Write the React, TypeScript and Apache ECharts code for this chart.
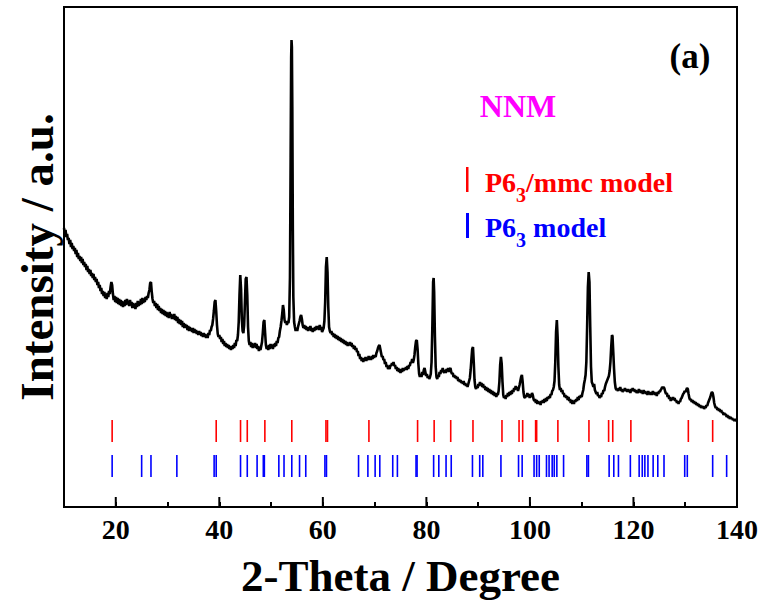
import React, { useEffect, useRef } from "react";
import * as echarts from "echarts";

// 2-Theta (deg), intensity (a.u.)
const pattern: [number, number][] = [
  [10.0, 2790], [10.15, 2740], [10.3, 2770], [10.45, 2700], [10.6, 2730], [10.75, 2670], [10.9, 2690], [11.05, 2630],
  [11.2, 2670], [11.35, 2600], [11.5, 2640], [11.65, 2580], [11.8, 2610], [11.95, 2560], [12.1, 2590], [12.25, 2530],
  [12.4, 2570], [12.55, 2500], [12.7, 2540], [12.85, 2480], [13.0, 2510], [13.15, 2460], [13.3, 2500], [13.45, 2440],
  [13.6, 2480], [13.75, 2420], [13.9, 2450], [14.05, 2400], [14.2, 2430], [14.35, 2370], [14.5, 2410], [14.65, 2350],
  [14.8, 2380], [14.95, 2330], [15.1, 2370], [15.25, 2310], [15.4, 2340], [15.55, 2290], [15.7, 2330], [15.85, 2270],
  [16.0, 2300], [16.15, 2250], [16.3, 2280], [16.45, 2220], [16.6, 2250], [16.75, 2190], [16.9, 2220], [17.05, 2160],
  [17.2, 2190], [17.35, 2130], [17.5, 2160], [17.65, 2110], [17.8, 2150], [17.95, 2090], [18.1, 2130], [18.25, 2080],
  [18.4, 2140], [18.55, 2100], [18.7, 2160], [18.85, 2130], [19.0, 2200], [19.15, 2250], [19.3, 2220], [19.45, 2130],
  [19.6, 2070], [19.75, 2110], [19.9, 2050], [20.05, 2100], [20.2, 2040], [20.35, 2090], [20.5, 2030], [20.65, 2080],
  [20.8, 2020], [20.95, 2070], [21.1, 2010], [21.25, 2060], [21.4, 2000], [21.55, 2050], [21.7, 2010], [21.85, 2070],
  [22.0, 2020], [22.15, 2080], [22.3, 2030], [22.45, 2060], [22.6, 2010], [22.75, 2070], [22.9, 2020], [23.05, 2050],
  [23.2, 1990], [23.35, 2040], [23.5, 1990], [23.65, 2030], [23.8, 1980], [23.95, 2040], [24.1, 2000], [24.25, 2060],
  [24.4, 2010], [24.55, 2050], [24.7, 2020], [24.85, 2080], [25.0, 2030], [25.15, 2090], [25.3, 2040], [25.45, 2080],
  [25.6, 2050], [25.75, 2100], [25.9, 2070], [26.05, 2110], [26.2, 2090], [26.35, 2140], [26.5, 2170], [26.65, 2240],
  [26.8, 2250], [26.95, 2150], [27.1, 2080], [27.25, 2040], [27.4, 2060], [27.55, 2010], [27.7, 2040], [27.85, 1990],
  [28.0, 2030], [28.15, 1970], [28.3, 2010], [28.45, 1960], [28.6, 1990], [28.75, 1940], [28.9, 1980], [29.05, 1930],
  [29.2, 1970], [29.35, 1920], [29.5, 1960], [29.65, 1910], [29.8, 1950], [29.95, 1900], [30.1, 1940], [30.25, 1890],
  [30.4, 1950], [30.55, 1900], [30.7, 1930], [30.85, 1880], [31.0, 1920], [31.15, 1880], [31.3, 1930], [31.45, 1870],
  [31.6, 1910], [31.75, 1860], [31.9, 1900], [32.05, 1840], [32.2, 1880], [32.35, 1830], [32.5, 1870], [32.65, 1820],
  [32.8, 1860], [32.95, 1800], [33.1, 1840], [33.25, 1790], [33.4, 1830], [33.55, 1790], [33.7, 1820], [33.85, 1770],
  [34.0, 1810], [34.15, 1760], [34.3, 1800], [34.45, 1760], [34.6, 1790], [34.75, 1750], [34.9, 1790], [35.05, 1740],
  [35.2, 1780], [35.35, 1740], [35.5, 1770], [35.65, 1730], [35.8, 1760], [35.95, 1720], [36.1, 1760], [36.25, 1720],
  [36.4, 1750], [36.55, 1710], [36.7, 1740], [36.85, 1700], [37.0, 1740], [37.15, 1700], [37.3, 1730], [37.45, 1690],
  [37.6, 1720], [37.75, 1690], [37.9, 1740], [38.05, 1720], [38.2, 1770], [38.35, 1760], [38.5, 1800], [38.65, 1820],
  [38.8, 1880], [38.95, 1960], [39.1, 2050], [39.25, 2070], [39.4, 1960], [39.55, 1820], [39.7, 1730], [39.85, 1700],
  [40.0, 1720], [40.15, 1680], [40.3, 1700], [40.45, 1650], [40.6, 1680], [40.75, 1630], [40.9, 1660], [41.05, 1610],
  [41.2, 1640], [41.35, 1600], [41.5, 1630], [41.65, 1590], [41.8, 1620], [41.95, 1580], [42.1, 1610], [42.25, 1570],
  [42.4, 1610], [42.55, 1580], [42.7, 1620], [42.85, 1590], [43.0, 1640], [43.15, 1610], [43.3, 1670], [43.45, 1660],
  [43.6, 1720], [43.75, 1850], [43.9, 2120], [44.05, 2320], [44.2, 2180], [44.35, 1880], [44.5, 1760], [44.65, 1740],
  [44.8, 1820], [44.95, 2050], [45.1, 2280], [45.25, 2300], [45.4, 2120], [45.55, 1800], [45.7, 1660], [45.85, 1620],
  [46.0, 1650], [46.15, 1600], [46.3, 1640], [46.45, 1590], [46.6, 1630], [46.75, 1600], [46.9, 1640], [47.05, 1590],
  [47.2, 1630], [47.35, 1580], [47.5, 1610], [47.65, 1560], [47.8, 1600], [47.95, 1570], [48.1, 1610], [48.25, 1650],
  [48.4, 1740], [48.55, 1850], [48.7, 1870], [48.85, 1740], [49.0, 1620], [49.15, 1580], [49.3, 1610], [49.45, 1570],
  [49.6, 1620], [49.75, 1580], [49.9, 1630], [50.05, 1590], [50.2, 1620], [50.35, 1580], [50.5, 1630], [50.65, 1600],
  [50.8, 1640], [50.95, 1610], [51.1, 1660], [51.25, 1640], [51.4, 1690], [51.55, 1700], [51.7, 1760], [51.85, 1800],
  [52.0, 1860], [52.15, 1930], [52.3, 2020], [52.45, 1970], [52.6, 1870], [52.75, 1840], [52.9, 1860], [53.05, 1820],
  [53.2, 1850], [53.35, 1840], [53.5, 1900], [53.65, 2300], [53.78, 3500], [53.88, 4500], [53.95, 4670], [54.02, 4600],
  [54.1, 4000], [54.2, 2800], [54.3, 2100], [54.45, 1850], [54.6, 1800], [54.75, 1760], [54.9, 1790], [55.05, 1760],
  [55.2, 1800], [55.35, 1830], [55.5, 1860], [55.65, 1900], [55.8, 1920], [55.95, 1880], [56.1, 1820], [56.25, 1790],
  [56.4, 1820], [56.55, 1780], [56.7, 1810], [56.85, 1770], [57.0, 1800], [57.15, 1760], [57.3, 1800], [57.45, 1770],
  [57.6, 1810], [57.75, 1760], [57.9, 1790], [58.05, 1750], [58.2, 1790], [58.35, 1760], [58.5, 1800], [58.65, 1770],
  [58.8, 1810], [58.95, 1780], [59.1, 1810], [59.25, 1770], [59.4, 1820], [59.55, 1780], [59.7, 1800], [59.85, 1750],
  [60.0, 1770], [60.15, 1790], [60.3, 1860], [60.45, 2050], [60.6, 2400], [60.75, 2500], [60.9, 2350], [61.05, 2000],
  [61.2, 1800], [61.35, 1760], [61.5, 1740], [61.65, 1760], [61.8, 1720], [61.95, 1740], [62.1, 1700], [62.25, 1730],
  [62.4, 1690], [62.55, 1720], [62.7, 1680], [62.85, 1710], [63.0, 1670], [63.15, 1700], [63.3, 1660], [63.45, 1690],
  [63.6, 1650], [63.75, 1680], [63.9, 1640], [64.05, 1670], [64.2, 1630], [64.35, 1660], [64.5, 1620], [64.65, 1650],
  [64.8, 1610], [64.95, 1640], [65.1, 1620], [65.25, 1650], [65.4, 1610], [65.55, 1640], [65.7, 1600], [65.85, 1620],
  [66.0, 1580], [66.15, 1610], [66.3, 1570], [66.45, 1590], [66.6, 1550], [66.75, 1560], [66.9, 1510], [67.05, 1530],
  [67.2, 1480], [67.35, 1500], [67.5, 1460], [67.65, 1490], [67.8, 1450], [67.95, 1490], [68.1, 1460], [68.25, 1500],
  [68.4, 1460], [68.55, 1490], [68.7, 1470], [68.85, 1510], [69.0, 1470], [69.15, 1500], [69.3, 1470], [69.45, 1510],
  [69.6, 1480], [69.75, 1520], [69.9, 1490], [70.05, 1520], [70.2, 1500], [70.35, 1540], [70.5, 1560], [70.65, 1590],
  [70.8, 1610], [70.95, 1620], [71.1, 1580], [71.25, 1540], [71.4, 1500], [71.55, 1510], [71.7, 1470], [71.85, 1480],
  [72.0, 1430], [72.15, 1450], [72.3, 1400], [72.45, 1420], [72.6, 1380], [72.75, 1400], [72.9, 1380], [73.05, 1420],
  [73.2, 1410], [73.35, 1440], [73.5, 1420], [73.65, 1450], [73.8, 1410], [73.95, 1420], [74.1, 1380], [74.25, 1400],
  [74.4, 1360], [74.55, 1390], [74.7, 1350], [74.85, 1380], [75.0, 1340], [75.15, 1380], [75.3, 1350], [75.45, 1390],
  [75.6, 1360], [75.75, 1390], [75.9, 1370], [76.05, 1400], [76.2, 1370], [76.35, 1410], [76.5, 1380], [76.65, 1420],
  [76.8, 1410], [76.95, 1450], [77.1, 1440], [77.25, 1480], [77.4, 1440], [77.55, 1470], [77.7, 1520], [77.85, 1600],
  [78.0, 1660], [78.15, 1670], [78.3, 1580], [78.45, 1430], [78.6, 1330], [78.75, 1300], [78.9, 1330], [79.05, 1300],
  [79.2, 1350], [79.35, 1320], [79.5, 1370], [79.65, 1390], [79.8, 1350], [79.95, 1310], [80.1, 1330], [80.25, 1290],
  [80.4, 1310], [80.55, 1280], [80.7, 1300], [80.85, 1330], [81.0, 1450], [81.15, 1800], [81.3, 2250], [81.4, 2290],
  [81.5, 2150], [81.65, 1700], [81.8, 1400], [81.95, 1300], [82.1, 1280], [82.25, 1320], [82.4, 1300], [82.55, 1350],
  [82.7, 1330], [82.85, 1370], [83.0, 1350], [83.15, 1390], [83.3, 1360], [83.45, 1340], [83.6, 1370], [83.75, 1340],
  [83.9, 1380], [84.05, 1360], [84.2, 1390], [84.35, 1350], [84.5, 1380], [84.65, 1390], [84.8, 1350], [84.95, 1330],
  [85.1, 1340], [85.25, 1300], [85.4, 1320], [85.55, 1290], [85.7, 1310], [85.85, 1280], [86.0, 1300], [86.15, 1260],
  [86.3, 1280], [86.45, 1250], [86.6, 1270], [86.75, 1240], [86.9, 1260], [87.05, 1230], [87.2, 1260], [87.35, 1220],
  [87.5, 1240], [87.65, 1210], [87.8, 1230], [87.95, 1200], [88.1, 1230], [88.25, 1260], [88.4, 1290], [88.55, 1370],
  [88.7, 1480], [88.85, 1580], [89.0, 1600], [89.15, 1450], [89.3, 1270], [89.45, 1200], [89.6, 1180], [89.75, 1210],
  [89.9, 1190], [90.05, 1230], [90.2, 1210], [90.35, 1250], [90.5, 1220], [90.65, 1240], [90.8, 1200], [90.95, 1230],
  [91.1, 1190], [91.25, 1210], [91.4, 1170], [91.55, 1200], [91.7, 1160], [91.85, 1190], [92.0, 1150], [92.15, 1180],
  [92.3, 1140], [92.45, 1170], [92.6, 1130], [92.75, 1160], [92.9, 1120], [93.05, 1150], [93.2, 1110], [93.35, 1140],
  [93.5, 1100], [93.65, 1130], [93.8, 1120], [93.95, 1160], [94.1, 1250], [94.25, 1420], [94.4, 1500], [94.55, 1430],
  [94.7, 1250], [94.85, 1120], [95.0, 1090], [95.15, 1110], [95.3, 1080], [95.45, 1120], [95.6, 1100], [95.75, 1140],
  [95.9, 1110], [96.05, 1150], [96.2, 1120], [96.35, 1160], [96.5, 1130], [96.65, 1170], [96.8, 1150], [96.95, 1190],
  [97.1, 1170], [97.25, 1210], [97.4, 1180], [97.55, 1200], [97.7, 1160], [97.85, 1190], [98.0, 1220], [98.15, 1260],
  [98.3, 1300], [98.45, 1320], [98.6, 1250], [98.75, 1150], [98.9, 1100], [99.05, 1090], [99.2, 1120], [99.35, 1100],
  [99.5, 1140], [99.65, 1110], [99.8, 1130], [99.95, 1090], [100.1, 1120], [100.25, 1100], [100.4, 1140], [100.55, 1120],
  [100.7, 1080], [100.85, 1060], [101.0, 1080], [101.15, 1040], [101.3, 1070], [101.45, 1030], [101.6, 1060], [101.75, 1030],
  [101.9, 1050], [102.05, 1020], [102.2, 1060], [102.35, 1040], [102.5, 1070], [102.65, 1040], [102.8, 1080], [102.95, 1050],
  [103.1, 1090], [103.25, 1060], [103.4, 1100], [103.55, 1080], [103.7, 1110], [103.85, 1090], [104.0, 1130], [104.15, 1120],
  [104.3, 1160], [104.45, 1170], [104.6, 1200], [104.75, 1260], [104.9, 1450], [105.05, 1750], [105.2, 1870], [105.35, 1700],
  [105.5, 1400], [105.65, 1220], [105.8, 1170], [105.95, 1190], [106.1, 1150], [106.25, 1170], [106.4, 1130], [106.55, 1140],
  [106.7, 1100], [106.85, 1120], [107.0, 1090], [107.15, 1110], [107.3, 1070], [107.45, 1100], [107.6, 1060], [107.75, 1080],
  [107.9, 1040], [108.05, 1070], [108.2, 1030], [108.35, 1060], [108.5, 1030], [108.65, 1070], [108.8, 1050], [108.95, 1080],
  [109.1, 1060], [109.25, 1100], [109.4, 1070], [109.55, 1110], [109.7, 1090], [109.85, 1120], [110.0, 1100], [110.15, 1140],
  [110.3, 1170], [110.45, 1230], [110.6, 1270], [110.75, 1320], [110.9, 1450], [111.05, 1800], [111.2, 2200], [111.35, 2350],
  [111.5, 2250], [111.65, 1800], [111.8, 1400], [111.95, 1250], [112.1, 1230], [112.25, 1200], [112.4, 1230], [112.55, 1170],
  [112.7, 1150], [112.85, 1130], [113.0, 1150], [113.15, 1110], [113.3, 1120], [113.45, 1090], [113.6, 1110], [113.75, 1100],
  [113.9, 1140], [114.05, 1130], [114.2, 1170], [114.35, 1160], [114.5, 1200], [114.65, 1230], [114.8, 1250], [114.95, 1270],
  [115.1, 1290], [115.25, 1310], [115.4, 1360], [115.55, 1450], [115.7, 1600], [115.85, 1720], [115.95, 1710], [116.1, 1550],
  [116.25, 1380], [116.4, 1250], [116.55, 1190], [116.7, 1170], [116.85, 1180], [117.0, 1160], [117.15, 1190], [117.3, 1170],
  [117.45, 1200], [117.6, 1160], [117.75, 1180], [117.9, 1150], [118.05, 1170], [118.2, 1160], [118.35, 1190], [118.5, 1160],
  [118.65, 1180], [118.8, 1150], [118.95, 1180], [119.1, 1150], [119.25, 1170], [119.4, 1140], [119.55, 1180], [119.7, 1160],
  [119.85, 1190], [120.0, 1160], [120.15, 1180], [120.3, 1150], [120.45, 1170], [120.6, 1140], [120.75, 1160], [120.9, 1140],
  [121.05, 1180], [121.2, 1150], [121.35, 1170], [121.5, 1140], [121.65, 1160], [121.8, 1130], [121.95, 1170], [122.1, 1140],
  [122.25, 1160], [122.4, 1130], [122.55, 1150], [122.7, 1120], [122.85, 1160], [123.0, 1130], [123.15, 1150], [123.3, 1120],
  [123.45, 1150], [123.6, 1120], [123.75, 1160], [123.9, 1130], [124.05, 1150], [124.2, 1120], [124.35, 1140], [124.5, 1110],
  [124.65, 1150], [124.8, 1130], [124.95, 1160], [125.1, 1150], [125.25, 1170], [125.4, 1180], [125.55, 1200], [125.7, 1190],
  [125.85, 1200], [126.0, 1180], [126.15, 1150], [126.3, 1130], [126.45, 1140], [126.6, 1100], [126.75, 1120], [126.9, 1080],
  [127.05, 1100], [127.2, 1060], [127.35, 1090], [127.5, 1070], [127.65, 1100], [127.8, 1070], [127.95, 1090], [128.1, 1060],
  [128.25, 1070], [128.4, 1040], [128.55, 1060], [128.7, 1030], [128.85, 1060], [129.0, 1050], [129.15, 1080], [129.3, 1090],
  [129.45, 1110], [129.6, 1130], [129.75, 1140], [129.9, 1160], [130.05, 1150], [130.2, 1170], [130.35, 1190], [130.5, 1180],
  [130.65, 1130], [130.8, 1090], [130.95, 1070], [131.1, 1080], [131.25, 1050], [131.4, 1070], [131.55, 1040], [131.7, 1060],
  [131.85, 1030], [132.0, 1050], [132.15, 1020], [132.3, 1040], [132.45, 1010], [132.6, 1030], [132.75, 1000], [132.9, 1020],
  [133.05, 990], [133.2, 1010], [133.35, 990], [133.5, 1010], [133.65, 980], [133.8, 1000], [133.95, 990], [134.1, 1020],
  [134.25, 1010], [134.4, 1040], [134.55, 1060], [134.7, 1080], [134.85, 1100], [135.0, 1130], [135.15, 1150], [135.3, 1140],
  [135.45, 1100], [135.6, 1040], [135.75, 1010], [135.9, 990], [136.05, 1000], [136.2, 970], [136.35, 990], [136.5, 960],
  [136.65, 980], [136.8, 950], [136.95, 970], [137.1, 940], [137.25, 950], [137.4, 920], [137.55, 940], [137.7, 920],
  [137.85, 930], [138.0, 900], [138.15, 920], [138.3, 890], [138.45, 910], [138.6, 880], [138.75, 900], [138.9, 880],
  [139.05, 890], [139.2, 870], [139.35, 880], [139.5, 860], [139.66, 880], [139.8, 860], [140.0, 870],
];

// Reference peak positions (2-Theta)
const p63mmcPeaks = [
  19.3, 39.4, 44.1, 45.4, 48.8, 54.0, 60.6, 60.9, 68.9, 78.3, 81.5, 84.7, 89.0, 94.6, 97.9, 98.6,
  101.1, 101.3, 105.4, 111.4, 115.2, 116.0, 119.5, 130.6, 135.3,
];
const p63Peaks = [
  19.3, 25.0, 26.8, 31.8, 39.0, 39.4, 44.1, 45.4, 47.3, 48.5, 48.7, 51.5, 52.5, 54.0, 55.5, 56.7,
  60.4, 60.7, 66.9, 68.7, 70.1, 71.0, 73.5, 74.4, 78.0, 78.2, 81.4, 82.4, 83.8, 84.8, 88.9, 90.3,
  90.9, 94.4, 97.8, 98.5, 100.8, 101.3, 101.8, 103.2, 103.7, 104.3, 104.7, 105.2, 106.5, 111.0, 111.3,
  115.3, 116.2, 117.1, 119.4, 121.1, 121.7, 122.2, 122.8, 123.8, 124.7, 125.9, 129.9, 130.4, 135.3, 138.0,
];
// stick row extents (intensity units)
const redRow = [650, 870];
const blueRow = [300, 520];
const majorTicks = [20, 40, 60, 80, 100, 120, 140];

const FONT = "'Liberation Serif', 'Times New Roman', serif";

export default function App() {
  const ref = useRef<HTMLDivElement>(null);
  useEffect(() => {
    if (!ref.current) return;
    const chart = echarts.init(ref.current, null, { renderer: "svg" });
    const stickSeries = (name: string, peaks: number[], row: number[], color: string) => ({
      type: "custom",
      name,
      data: peaks.map((p) => [p, row[0], row[1]]),
      renderItem: (_params: any, api: any) => {
        const a = api.coord([api.value(0), api.value(1)]);
        const b = api.coord([api.value(0), api.value(2)]);
        return {
          type: "line",
          shape: { x1: a[0], y1: a[1], x2: b[0], y2: b[1] },
          style: { stroke: color, lineWidth: 1.6 },
        };
      },
      silent: true,
      z: 3,
    });
    const legendRich = (color: string) => ({
      m: { fontSize: 28, fontWeight: "bold", fontFamily: FONT, fill: color, lineHeight: 46, verticalAlign: "middle" },
      s: { fontSize: 20, fontWeight: "bold", fontFamily: FONT, fill: color, lineHeight: 20, verticalAlign: "bottom" },
    });
    chart.setOption({
      animation: false,
      backgroundColor: "#fff",
      grid: {
        left: 64,
        right: 24,
        top: 7,
        bottom: 96,
        show: true,
        borderColor: "#000",
        borderWidth: 2,
      },
      xAxis: {
        type: "value",
        min: 10,
        max: 140,
        interval: 10,
        axisLine: { show: true, lineStyle: { color: "#000", width: 2 } },
        axisTick: { show: true, inside: true, length: 5, lineStyle: { color: "#000", width: 2 } },
        axisLabel: {
          formatter: (v: number) => (v % 20 === 0 ? String(v) : ""),
          fontSize: 28,
          fontWeight: "bold",
          fontFamily: FONT,
          color: "#000",
          margin: 8,
        },
        splitLine: { show: false },
        name: "2-Theta / Degree",
        nameLocation: "middle",
        nameGap: 46,
        nameTextStyle: { fontSize: 45, fontWeight: "bold", fontFamily: FONT, color: "#000" },
      },
      yAxis: {
        type: "value",
        min: 0,
        max: 5000,
        axisLine: { show: true, lineStyle: { color: "#000", width: 2 } },
        axisTick: { show: false },
        axisLabel: { show: false },
        splitLine: { show: false },
        name: "Intensity / a.u.",
        nameLocation: "middle",
        nameGap: 4,
        nameTextStyle: { fontSize: 47, fontWeight: "bold", fontFamily: FONT, color: "#000" },
      },
      series: [
        {
          type: "line",
          name: "NNM",
          data: pattern,
          showSymbol: false,
          symbol: "none",
          lineStyle: { color: "#000", width: 2.6 },
          z: 4,
        },
        stickSeries("P63/mmc model", p63mmcPeaks, redRow, "#ff0000"),
        stickSeries("P63 model", p63Peaks, blueRow, "#0000ff"),
        {
          type: "custom",
          name: "major ticks",
          data: majorTicks.map((t) => [t, 0]),
          renderItem: (_params: any, api: any) => {
            const a = api.coord([api.value(0), api.value(1)]);
            return {
              type: "line",
              shape: { x1: a[0], y1: a[1], x2: a[0], y2: a[1] - 10 },
              style: { stroke: "#000", lineWidth: 2 },
            };
          },
          silent: true,
          z: 5,
        },
      ],
      graphic: [
        {
          type: "text",
          x: 690,
          y: 56,
          style: { text: "(a)", fontSize: 35, fontWeight: "bold", fontFamily: FONT, fill: "#000", align: "center", verticalAlign: "middle" },
        },
        {
          type: "text",
          x: 518,
          y: 106,
          style: { text: "NNM", fontSize: 32, fontWeight: "bold", fontFamily: FONT, fill: "#ff00ff", align: "center", verticalAlign: "middle" },
        },
        { type: "rect", shape: { x: 466, y: 167, width: 2.5, height: 25 }, style: { fill: "#ff0000" } },
        {
          type: "text",
          x: 485,
          y: 182,
          style: { text: "{m|P6}{s|3}{m|/mmc model}", fill: "#ff0000", verticalAlign: "middle", rich: legendRich("#ff0000") },
        },
        { type: "rect", shape: { x: 466, y: 213, width: 3, height: 25 }, style: { fill: "#0000ff" } },
        {
          type: "text",
          x: 485,
          y: 227,
          style: { text: "{m|P6}{s|3}{m| model}", fill: "#0000ff", verticalAlign: "middle", rich: legendRich("#0000ff") },
        },
      ],
    });
    return () => chart.dispose();
  }, []);
  return <div ref={ref} style={{ position: "fixed", left: 0, top: 0, width: 761, height: 603 }} />;
}
